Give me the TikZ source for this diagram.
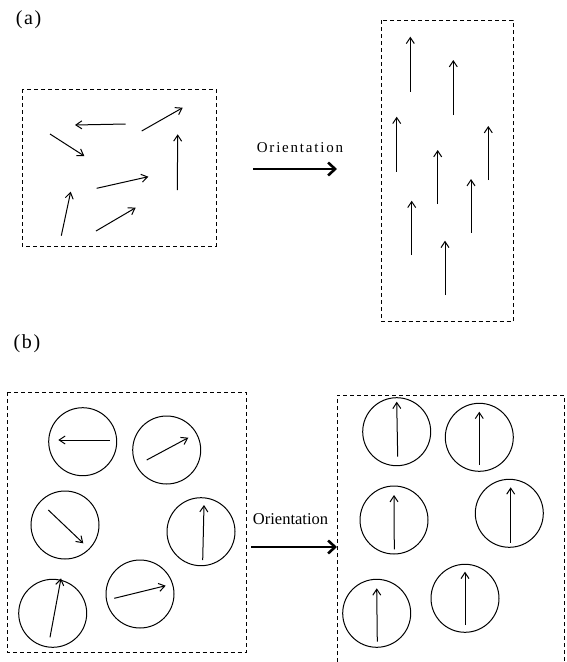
\documentclass[tikz,border=0pt]{standalone}
\usepackage{fontspec}
\setmainfont{Liberation Serif}
\newfontfamily\spacedfont[LetterSpace=12]{Liberation Serif}
\newfontfamily\labelfont[LetterSpace=8]{Liberation Serif}
\usetikzlibrary{arrows.meta}

\def\grainRadius{34pt}

\begin{document}
\begin{tikzpicture}[
    x=1pt, y=-1pt,
    box/.style={dashed, dash pattern=on 4pt off 3pt, line width=0.8pt},
    vec/.style={line width=1pt, -{Straight Barb[length=6pt,width=8pt]}},
    grain/.style={line width=1pt},
    push/.style={line width=2.6pt, -{Straight Barb[length=7pt,width=13pt]}},
  ]
  \useasboundingbox (0,0) rectangle (566,662);

  % (a) rigid rods
  \node (labelA) at (28.5,20) {\labelfont\fontsize{20}{24}\selectfont (a)};

  \draw[box] (22,89) rectangle (216,246);
  \draw[vec] (125.7,124) -- (75,125);
  \draw[vec] (141.7,131) -- (182.7,107.7);
  \draw[vec] (50,134) -- (84.3,156);
  \draw[vec] (177.3,190) -- (177.7,134.3);
  \draw[vec] (96.7,188.3) -- (148.3,176.7);
  \draw[vec] (61.3,235.7) -- (70.7,191.7);
  \draw[vec] (96,231) -- (135.7,207.7);

  \node (orientA) at (300,147.5) {\spacedfont\fontsize{15}{18}\selectfont Orientation};
  \coordinate (orientAstart) at (253,169);
  \coordinate (orientAend) at (337,169);
  \draw[push] (orientAstart) -- (orientAend);

  \draw[box] (381,20) rectangle (513,321.5);
  \draw[vec] (410.3,91.7) -- (410.3,36.7);
  \draw[vec] (453.3,115) -- (453.3,60);
  \draw[vec] (396.7,171.7) -- (396.7,116.7);
  \draw[vec] (488.3,180) -- (488.3,126);
  \draw[vec] (437.7,204) -- (437.7,150);
  \draw[vec] (471,232.7) -- (471,179);
  \draw[vec] (411.7,255) -- (411.7,200.7);
  \draw[vec] (445,295) -- (445,240.7);

  % (b) grains with a moment
  \node (labelB) at (27,344) {\labelfont\fontsize{20}{24}\selectfont (b)};

  \draw[box] (7.5,392) rectangle (246,652);
  \draw[grain] (82.7,441.7) circle[radius=\grainRadius];
  \draw[vec] (110,440) -- (58.3,440);
  \draw[grain] (166.7,450) circle[radius=\grainRadius];
  \draw[vec] (146.7,460) -- (188.3,437.7);
  \draw[grain] (65,525) circle[radius=\grainRadius];
  \draw[vec] (48.3,510) -- (83.3,543.3);
  \draw[grain] (201,531.7) circle[radius=\grainRadius];
  \draw[vec] (202.7,560) -- (204,505);
  \draw[grain] (140,594) circle[radius=\grainRadius];
  \draw[vec] (114.3,598.3) -- (165.7,585.7);
  \draw[grain] (52.7,613.3) circle[radius=\grainRadius];
  \draw[vec] (50,637.3) -- (61,578.3);

  \node (orientB) at (290.5,519.5) {\fontsize{16.5}{19}\selectfont Orientation};
  \coordinate (orientBstart) at (251,547);
  \coordinate (orientBend) at (337,547);
  \draw[push] (orientBstart) -- (orientBend);

  \draw[box] (337,662) -- (337,395) -- (564,395) -- (564,662);
  \draw[grain] (396.7,431.7) circle[radius=\grainRadius];
  \draw[vec] (397.7,456.7) -- (396.7,401.7);
  \draw[grain] (479.3,437.3) circle[radius=\grainRadius];
  \draw[vec] (479.3,465) -- (479.3,411.7);
  \draw[grain] (394,520) circle[radius=\grainRadius];
  \draw[vec] (394.3,549.3) -- (394,495);
  \draw[grain] (509.3,513.3) circle[radius=\grainRadius];
  \draw[vec] (510.7,542.7) -- (510.7,487.3);
  \draw[grain] (376.7,613.3) circle[radius=\grainRadius];
  \draw[vec] (377.3,641.7) -- (376.7,588.3);
  \draw[grain] (465,598.3) circle[radius=\grainRadius];
  \draw[vec] (465,625) -- (465,571.7);
\end{tikzpicture}
\end{document}
